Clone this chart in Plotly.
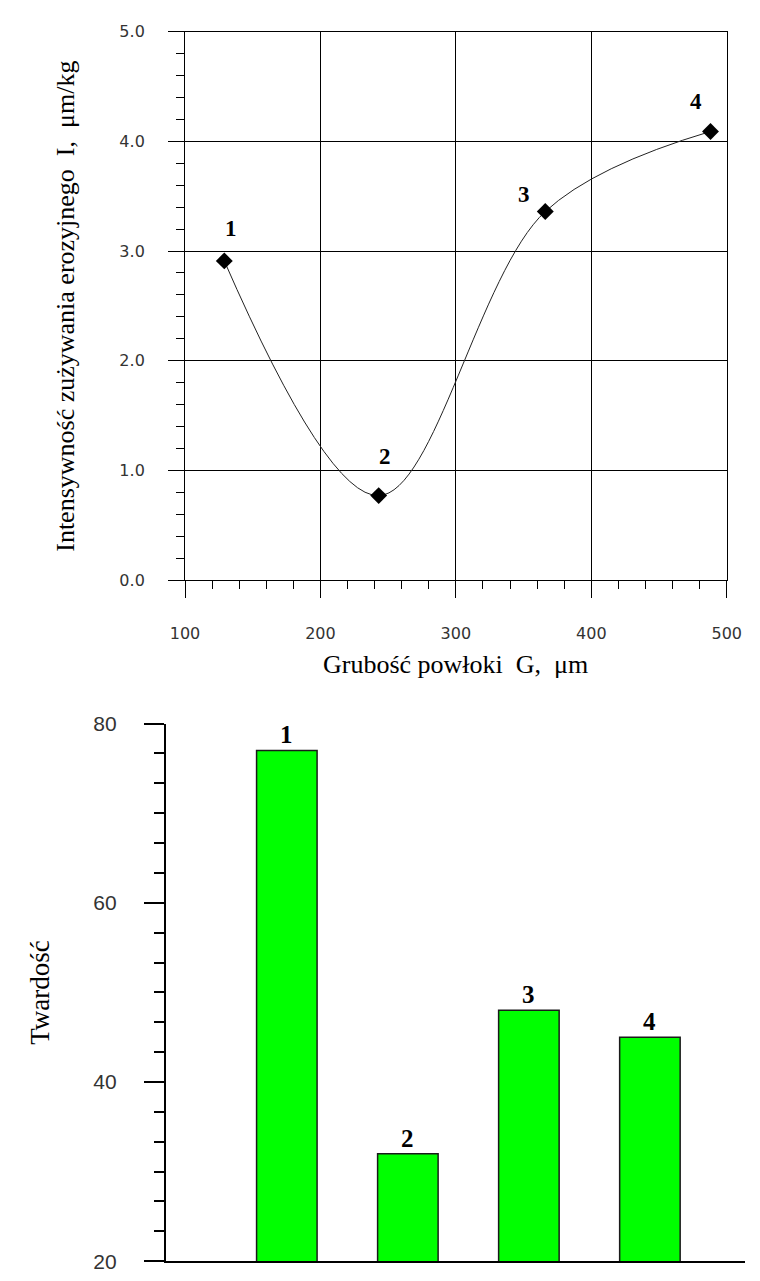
import plotly.graph_objects as go

# ---- data: top chart ----
thickness = [129, 243, 366, 488]          # Grubość powłoki G, µm
intensity = [2.91, 0.77, 3.36, 4.09]      # Intensywność zużywania erozyjnego I, µm/kg
point_labels = ["1", "2", "3", "4"]

# ---- data: bottom chart ----
bar_pos = [1, 2, 3, 4]
bar_labels = ["1", "2", "3", "4"]
hardness = [77, 32, 48, 45]               # Twardość

W, H = 760, 1281
SERIF = "Liberation Serif, Times New Roman, serif"
SANS = "DejaVu Sans, sans-serif"

fig = go.Figure()

fig.add_trace(go.Scatter(
    x=thickness, y=intensity, mode="lines",
    line=dict(shape="spline", smoothing=1.0, color="#222", width=1),
    xaxis="x", yaxis="y", hoverinfo="skip", showlegend=False))
fig.add_trace(go.Scatter(
    x=thickness, y=intensity, mode="markers",
    marker=dict(symbol="diamond", size=13, color="black"),
    xaxis="x", yaxis="y", showlegend=False))

fig.add_trace(go.Bar(
    x=bar_pos, y=hardness, width=0.5, base=0,
    marker=dict(color="#00FF00", line=dict(color="#1a1a1a", width=1.5)),
    xaxis="x2", yaxis="y2", showlegend=False))

# point labels (offsets in pixels)
shifts = [(7, 32), (6, 39), (-21, 17), (-14, 30)]
anns = []
for xv, yv, t, (dx, dy) in zip(thickness, intensity, point_labels, shifts):
    anns.append(dict(x=xv, y=yv, xref="x", yref="y", text="<b>%s</b>" % t,
                     showarrow=False, xshift=dx, yshift=dy,
                     xanchor="center", yanchor="middle",
                     font=dict(family=SERIF, size=23, color="black")))
for xv, yv, t in zip(bar_pos, hardness, bar_labels):
    anns.append(dict(x=xv, y=yv, xref="x2", yref="y2", text="<b>%s</b>" % t,
                     showarrow=False, xanchor="center", yanchor="bottom", yshift=0,
                     font=dict(family=SERIF, size=25, color="black")))

# axis titles
anns.append(dict(x=53 / W, y=(H - 299) / H, xref="paper", yref="paper",
                 xanchor="center", yanchor="middle",
                 text="Intensywność zużywania erozyjnego  I,  \u03bcm/kg",
                 textangle=-90, showarrow=False,
                 font=dict(family=SERIF, size=26, color="black")))
anns.append(dict(x=(177 + 741) / 2 / W, y=(H - 664) / H, xref="paper", yref="paper",
                 xanchor="center", yanchor="middle",
                 text="Grubość powłoki  G,  \u03bcm", showarrow=False,
                 font=dict(family=SERIF, size=26, color="black")))
anns.append(dict(x=26 / W, y=(H - 997) / H, xref="paper", yref="paper",
                 xanchor="center", yanchor="middle",
                 text="Twardość", textangle=-90, showarrow=False,
                 font=dict(family=SERIF, size=27, color="black")))

fig.update_layout(
    width=W, height=H, autosize=False,
    margin=dict(l=0, r=0, t=0, b=0),
    paper_bgcolor="white", plot_bgcolor="white",
    showlegend=False, annotations=anns,
    xaxis=dict(domain=[177 / W, 741 / W], range=[100, 500], dtick=100, tick0=100,
               showgrid=True, gridcolor="black", gridwidth=1,
               showline=True, linecolor="black", linewidth=1, mirror=True,
               ticks="outside", ticklen=17, tickcolor="black", tickwidth=1,
               minor=dict(dtick=20, ticks="outside", ticklen=8, tickcolor="black", showgrid=False),
               tickfont=dict(family=SANS, size=16, color="#333"),
               ticklabelstandoff=22, zeroline=False, anchor="y", fixedrange=True),
    yaxis=dict(domain=[(H - 578) / H, (H - 20) / H], range=[0, 5], dtick=1, tick0=0,
               tickformat=".1f",
               showgrid=True, gridcolor="black", gridwidth=1,
               showline=True, linecolor="black", linewidth=1, mirror=True,
               ticks="outside", ticklen=16, tickcolor="black", tickwidth=1,
               minor=dict(dtick=0.2, ticks="outside", ticklen=8, tickcolor="black", showgrid=False),
               tickfont=dict(family=SANS, size=16, color="#333"),
               ticklabelstandoff=20, zeroline=False, anchor="x", fixedrange=True),
    xaxis2=dict(domain=[157 / W, 1.0], range=[0, (W - 157) / 126.0],
                showgrid=False, showline=True, linecolor="black", linewidth=2,
                ticks="", showticklabels=False, zeroline=False, anchor="y2", fixedrange=True),
    yaxis2=dict(domain=[10 / H, (H - 724) / H], range=[20, 80], dtick=20, tick0=20,
                showgrid=False, showline=True, linecolor="black", linewidth=2,
                ticks="outside", ticklen=20, tickcolor="black", tickwidth=2,
                minor=dict(dtick=20 / 6, ticks="outside", ticklen=10, tickcolor="black",
                           tickwidth=1.5, showgrid=False),
                tickfont=dict(family="Liberation Sans, Arial, sans-serif", size=21, color="#333"),
                ticklabelstandoff=23, zeroline=False, anchor="x2", fixedrange=True),
)

fig.write_html("out.html")
